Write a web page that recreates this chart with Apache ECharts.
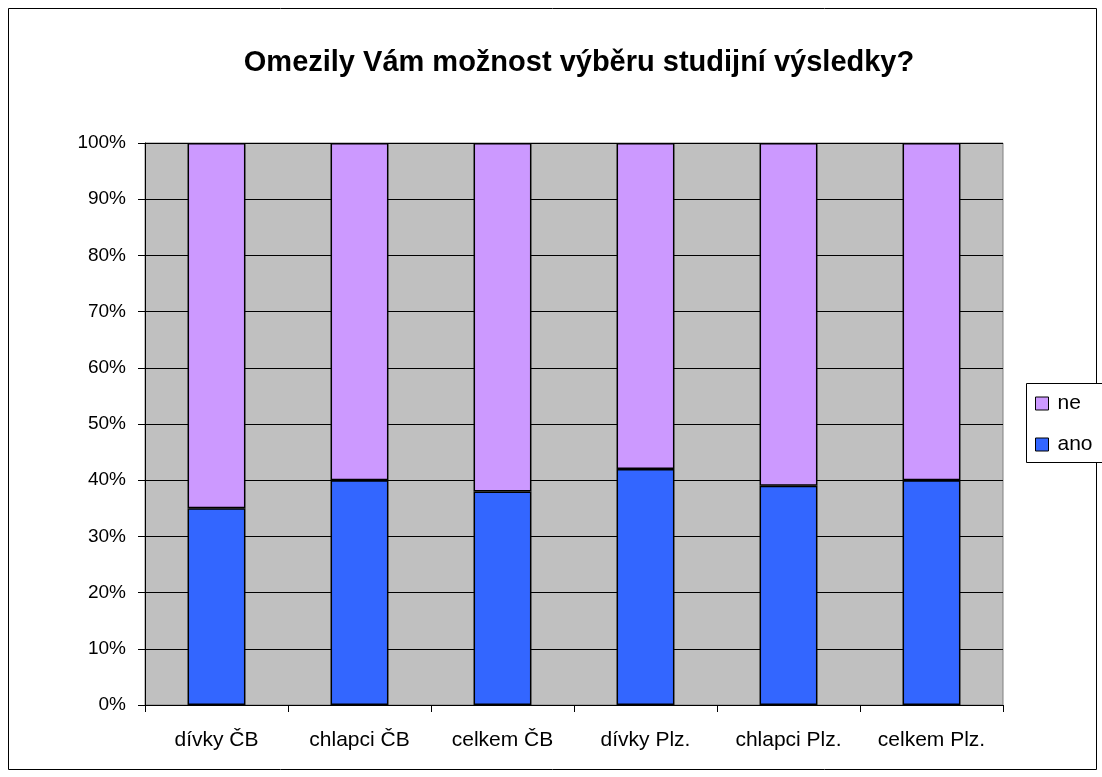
<!DOCTYPE html>
<html>
<head>
<meta charset="utf-8">
<script src="https://cdn.jsdelivr.net/npm/echarts@6/dist/echarts.min.js"></script>
<style>
  html, body { margin: 0; padding: 0; background: #fff; }
  #chart { width: 1102px; height: 777px; }
</style>
</head>
<body>
<div id="chart"></div>
<script>
// skupiny
const categories = ['dívky ČB', 'chlapci ČB', 'celkem ČB', 'dívky Plz.', 'chlapci Plz.', 'celkem Plz.'];
// podíl odpovědí v %
const ano = [35, 40, 38, 42, 39, 40];
const ne = [65, 60, 62, 58, 61, 60];

const chart = echarts.init(document.getElementById('chart'));

const font = 'Liberation Sans, Arial, sans-serif';

chart.setOption({
    animation: false,
    textStyle: { fontFamily: font },
    title: {
        text: 'Omezily Vám možnost výběru studijní výsledky?',
        left: 574,
        textAlign: 'center',
        top: 43,
        textStyle: { fontSize: 29, fontWeight: 'bold', color: '#000', fontFamily: font }
    },
    graphic: [{
        type: 'rect',
        shape: { x: 8.5, y: 8.5, width: 1088, height: 761 },
        style: { fill: 'none', stroke: '#000', lineWidth: 1 },
        z: -1
    }, {
        type: 'rect',
        shape: { x: 1026.5, y: 383.5, width: 80, height: 79 },
        style: { fill: '#fff', stroke: '#000', lineWidth: 1 },
        z: 0
    }],
    legend: {
        data: ['ne', 'ano'],
        orient: 'vertical',
        left: 1035,
        top: 393,
        padding: 0,
        itemWidth: 13,
        itemHeight: 13,
        itemGap: 20,
        icon: 'rect',
        itemStyle: { borderColor: '#000', borderWidth: 1 },
        textStyle: { fontSize: 21, color: '#000', fontFamily: font, padding: [0, 0, 0, 4] },
        z: 5
    },
    grid: {
        left: 145,
        right: 99,
        top: 143,
        bottom: 72,
        show: true,
        backgroundColor: '#c0c0c0',
        borderColor: '#808080',
        borderWidth: 1
    },
    xAxis: {
        type: 'category',
        data: categories,
        axisLine: { lineStyle: { color: '#000' } },
        axisTick: { show: true, length: 7, lineStyle: { color: '#000' } },
        axisLabel: { fontSize: 21, color: '#000', margin: 25, fontFamily: font }
    },
    yAxis: {
        type: 'value',
        min: 0,
        max: 100,
        interval: 10,
        axisLine: { show: true, lineStyle: { color: '#000' } },
        axisTick: { show: true, length: 7, lineStyle: { color: '#000' } },
        axisLabel: { fontSize: 19, color: '#000', margin: 19, formatter: '{value}%', fontFamily: font },
        splitLine: { show: true, lineStyle: { color: '#000', width: 1 } }
    },
    series: [{
        name: 'ano',
        type: 'bar',
        stack: 'total',
        data: ano,
        barWidth: '40.5%',
        itemStyle: { color: '#3366ff', borderColor: '#000', borderWidth: 1.5 }
    }, {
        name: 'ne',
        type: 'bar',
        stack: 'total',
        data: ne,
        barWidth: '40.5%',
        itemStyle: { color: '#cc99ff', borderColor: '#000', borderWidth: 1.5 }
    }]
});
</script>
</body>
</html>
